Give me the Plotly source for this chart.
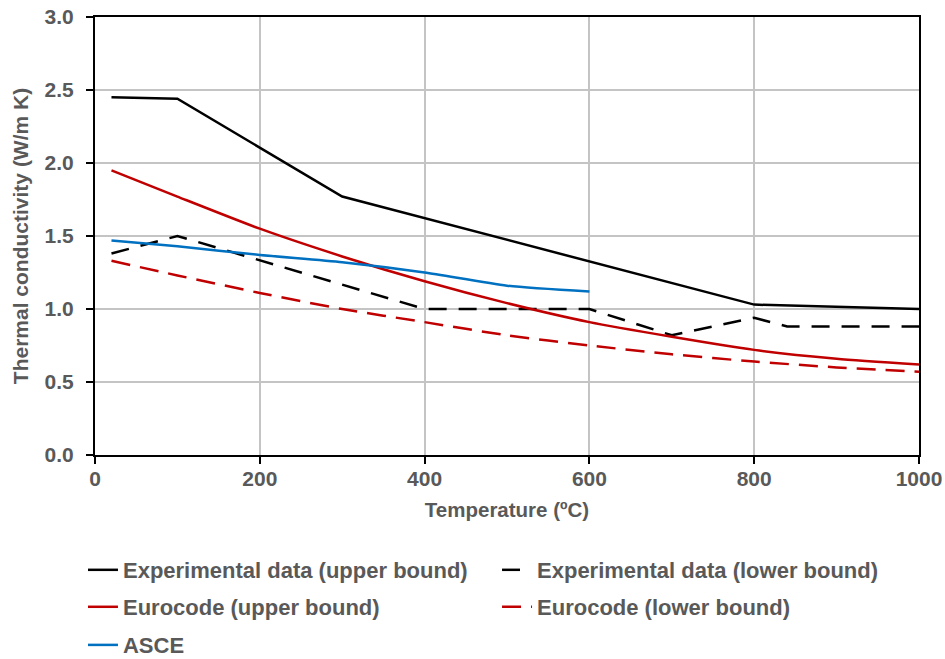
import plotly.graph_objects as go

# Thermal conductivity of concrete vs temperature
exp_upper_T = [20, 100, 300, 800, 1000]
exp_upper_k = [2.45, 2.44, 1.77, 1.03, 1.00]

exp_lower_T = [20, 100, 400, 600, 700, 800, 840, 1000]
exp_lower_k = [1.38, 1.50, 1.00, 1.00, 0.82, 0.94, 0.88, 0.88]

ec_T = [20, 100, 200, 300, 400, 500, 600, 700, 800, 900, 1000]
ec_upper_k = [1.95, 1.77, 1.55, 1.36, 1.19, 1.04, 0.91, 0.81, 0.72, 0.66, 0.62]
ec_lower_k = [1.33, 1.23, 1.11, 1.00, 0.91, 0.82, 0.75, 0.69, 0.64, 0.60, 0.57]

asce_T = [20, 100, 200, 300, 400, 500, 600]
asce_k = [1.47, 1.43, 1.37, 1.32, 1.25, 1.16, 1.12]

x_ticks = [0, 200, 400, 600, 800, 1000]
y_ticks = [0.0, 0.5, 1.0, 1.5, 2.0, 2.5, 3.0]

FONT = "Liberation Sans"
GREY = "#595959"
BLACK = "#000000"
RED = "#C00000"
BLUE = "#0070C0"
GRID = "#C4C4C4"
LW = 2.5

fig = go.Figure()
fig.add_trace(go.Scatter(x=exp_upper_T, y=exp_upper_k, mode="lines",
                         name="Experimental data (upper bound)",
                         line=dict(color=BLACK, width=LW), legend="legend"))
fig.add_trace(go.Scatter(x=exp_lower_T, y=exp_lower_k, mode="lines",
                         name="Experimental data (lower bound)",
                         line=dict(color=BLACK, width=LW, dash="18px,12px"), legend="legend2"))
fig.add_trace(go.Scatter(x=ec_T, y=ec_upper_k, mode="lines",
                         name="Eurocode (upper bound)", line_shape="spline",
                         line=dict(color=RED, width=LW, smoothing=0.6), legend="legend3"))
fig.add_trace(go.Scatter(x=ec_T, y=ec_lower_k, mode="lines",
                         name="Eurocode (lower bound)", line_shape="spline",
                         line=dict(color=RED, width=LW, dash="19px,10px", smoothing=0.6), legend="legend4"))
fig.add_trace(go.Scatter(x=asce_T, y=asce_k, mode="lines",
                         name="ASCE", line_shape="spline",
                         line=dict(color=BLUE, width=LW, smoothing=0.6), legend="legend5"))

# two-column legend below the plot: one single-entry legend per cell
legend_font = dict(family=FONT, size=22, color=GREY, weight="bold")
legend_base = dict(orientation="h", xanchor="left", yanchor="middle",
                   font=legend_font, bgcolor="rgba(0,0,0,0)", itemclick=False)
col_x = [-0.0146, 0.4879]
row_y = [-0.2626, -0.347, -0.434]

axis_common = dict(
    showgrid=True, gridcolor=GRID, gridwidth=1.5,
    showline=True, linecolor=BLACK, linewidth=2, mirror=True,
    ticks="outside", ticklen=7, tickcolor=BLACK, tickwidth=1.5,
    tickfont=dict(family=FONT, size=21, color=GREY, weight="bold"),
    zeroline=False,
)

fig.update_layout(
    width=945, height=659,
    margin=dict(l=95, r=26, t=17, b=204, autoexpand=False),
    plot_bgcolor="white", paper_bgcolor="white",
    font=dict(family=FONT, size=20, color=GREY),
    showlegend=True,
    legend=dict(x=col_x[0], y=row_y[0], **legend_base),
    legend2=dict(x=col_x[1], y=row_y[0], **legend_base),
    legend3=dict(x=col_x[0], y=row_y[1], **legend_base),
    legend4=dict(x=col_x[1], y=row_y[1], **legend_base),
    legend5=dict(x=col_x[0], y=row_y[2], **legend_base),
    xaxis=dict(
        range=[0, 1000], tickvals=x_ticks, ticktext=[str(v) for v in x_ticks],
        ticklabelstandoff=-3,
        title=dict(text="Temperature (ºC)", standoff=13,
                   font=dict(family=FONT, size=20.5, color=GREY, weight="bold")),
        **axis_common,
    ),
    yaxis=dict(
        range=[0, 3.0], tickvals=y_ticks, ticktext=[f"{v:.1f}" for v in y_ticks],
        ticklabelstandoff=8,
        title=dict(text="Thermal conductivity (W/m K)", standoff=10,
                   font=dict(family=FONT, size=21, color=GREY, weight="bold")),
        **axis_common,
    ),
)

fig.write_html("out.html")
